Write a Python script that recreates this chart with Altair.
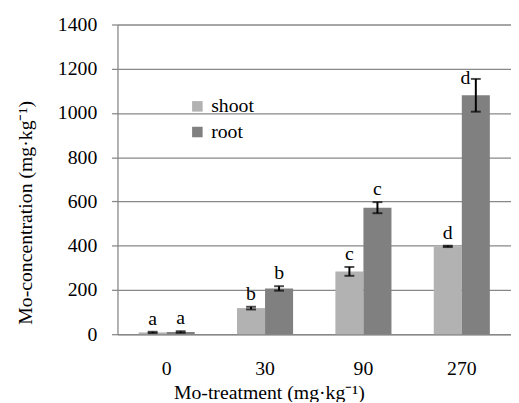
import altair as alt
import pandas as pd

treatments = ["0", "30", "90", "270"]
series = ["shoot", "root"]
shoot_vals = [8, 118, 284, 397]
root_vals = [10, 207, 572, 1080]
shoot_err = [3, 6, 20, 3]
root_err = [3, 10, 25, 74]
shoot_letters = ["a", "b", "c", "d"]
root_letters = ["a", "b", "c", "d"]

rows = []
for i, t in enumerate(treatments):
    rows.append({"treat": t, "part": "shoot", "val": shoot_vals[i], "err": shoot_err[i], "lbl": shoot_letters[i]})
    rows.append({"treat": t, "part": "root", "val": root_vals[i], "err": root_err[i], "lbl": root_letters[i]})
df = pd.DataFrame(rows)
df["lo"] = df["val"] - df["err"]
df["hi"] = df["val"] + df["err"]

FONT = "Liberation Serif"
LFONT = "Times New Roman"
GRID = "#888888"

x_enc = alt.X("treat:N", sort=treatments,
              scale=alt.Scale(paddingInner=0.43, paddingOuter=0.215),
              axis=alt.Axis(title="Mo-treatment (mg·kg⁻¹)", labelAngle=0, ticks=False,
                            labelPadding=25, domainColor=GRID, domainWidth=1.5,
                            labelFont=LFONT, labelFontSize=20, labelColor="black",
                            titleFont=FONT, titleFontSize=20, titleColor="black",
                            titleFontWeight="normal",
                            titleX=153.5, titleY=65, titleBaseline="alphabetic",
                            titleAlign="center"))
xo = alt.XOffset("part:N", sort=series, scale=alt.Scale(paddingInner=0, paddingOuter=0))
y_scale = alt.Scale(domain=[0, 1400])

bars = alt.Chart(df).mark_bar().encode(
    x=x_enc,
    xOffset=xo,
    y=alt.Y("val:Q", scale=y_scale,
            axis=alt.Axis(title="Mo-concentration (mg·kg⁻¹)", values=list(range(0, 1401, 200)),
                          format="d",
                          grid=True, gridColor=GRID, gridWidth=1.3, tickColor=GRID,
                          tickSize=6, tickWidth=1.3, labelPadding=15, domainColor=GRID,
                          domainWidth=1.3,
                          labelFont=LFONT, labelFontSize=20, labelColor="black",
                          titleFont=FONT, titleFontSize=20, titleColor="black",
                          titleFontWeight="normal",
                          titleAngle=270, titleX=-87, titleY=190.5,
                          titleBaseline="alphabetic", titleAlign="center")),
    color=alt.Color("part:N", sort=series,
                    scale=alt.Scale(domain=series, range=["#b2b2b2", "#808080"]),
                    legend=alt.Legend(title=None, orient="none", legendX=71, legendY=73,
                                      symbolType="square", symbolSize=114,
                                      symbolStrokeWidth=0, labelFontSize=20,
                                      labelFont=LFONT, labelColor="black",
                                      labelOffset=4, rowPadding=6, padding=0)),
)

rule = alt.Chart(df).mark_rule(color="black", strokeWidth=2).encode(
    x=alt.X("treat:N", sort=treatments), xOffset=xo,
    y=alt.Y("lo:Q", scale=y_scale), y2="hi:Q")

caps_hi = alt.Chart(df).mark_tick(color="black", size=10, thickness=2).encode(
    x=alt.X("treat:N", sort=treatments), xOffset=xo, y=alt.Y("hi:Q", scale=y_scale))
caps_lo = alt.Chart(df).mark_tick(color="black", size=10, thickness=2).encode(
    x=alt.X("treat:N", sort=treatments), xOffset=xo, y=alt.Y("lo:Q", scale=y_scale))

main_lbl = df[~((df["treat"] == "270") & (df["part"] == "root"))]
side_lbl = df[(df["treat"] == "270") & (df["part"] == "root")]

text = alt.Chart(main_lbl).mark_text(font=FONT, fontSize=20, baseline="alphabetic",
                                     dy=-7, color="black").encode(
    x=alt.X("treat:N", sort=treatments), xOffset=xo,
    y=alt.Y("hi:Q", scale=y_scale), text="lbl:N")
text2 = alt.Chart(side_lbl).mark_text(font=FONT, fontSize=20, baseline="alphabetic",
                                      dy=5, dx=-10.5, color="black").encode(
    x=alt.X("treat:N", sort=treatments), xOffset=xo,
    y=alt.Y("hi:Q", scale=y_scale), text="lbl:N")

chart = alt.layer(bars, rule, caps_hi, caps_lo, text, text2).properties(
    width=399, height=314,
    autosize=alt.AutoSizeParams(type="none"),
    padding={"left": 111, "top": 14, "right": 0, "bottom": 66},
).configure(font=FONT).configure_view(strokeWidth=0)

chart.save("out.html", embed_options={"renderer": "svg", "actions": False})
